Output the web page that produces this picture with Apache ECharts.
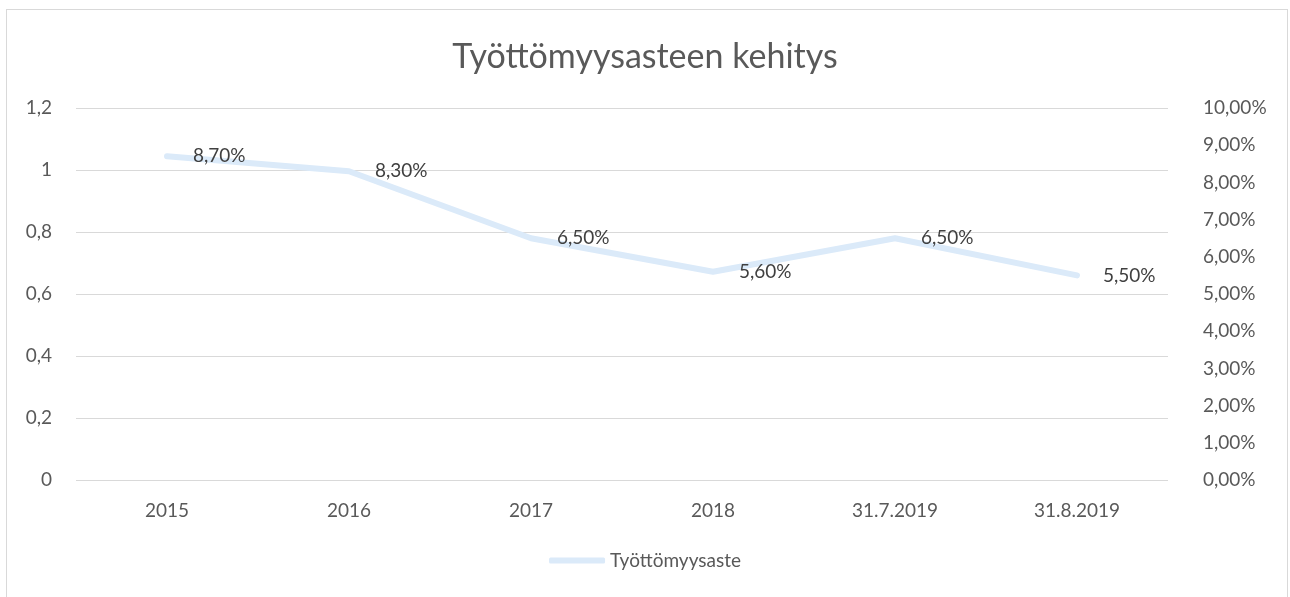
<!DOCTYPE html>
<html>
<head>
<meta charset="utf-8">
<script src="https://cdn.jsdelivr.net/npm/echarts@6/dist/echarts.min.js"></script>
<style>
  html, body { margin: 0; padding: 0; background: #fff; }
  .frame {
    position: absolute; left: 6px; top: 9px; width: 1282px; height: 600px;
    border: 1px solid #d9d9d9; box-sizing: border-box;
  }
  #chart { position: absolute; left: 0; top: 0; width: 1290px; height: 597px; }
</style>
</head>
<body>
<div class="frame"></div>
<div id="chart"></div>
<script>
const categories = ['2015', '2016', '2017', '2018', '31.7.2019', '31.8.2019']
const rates = [0.087, 0.083, 0.065, 0.056, 0.065, 0.055]
const seriesName = 'Työttömyysaste'

const labelColor = '#595959'
const lineColor = '#dbeaf9'
const fontFamily = 'Lato, "Liberation Sans", sans-serif'

const fmtComma = (v) => String(Math.round(v * 10) / 10).replace('.', ',')
const fmtPct = (v) => (v * 100).toFixed(2).replace('.', ',') + '%'

const chart = echarts.init(document.getElementById('chart'))
chart.setOption({
  animation: false,
  textStyle: { fontFamily: fontFamily },
  title: {
    text: 'Työttömyysasteen kehitys',
    left: 'center',
    top: 35,
    textStyle: { color: labelColor, fontSize: 34, fontWeight: 'normal', fontFamily: fontFamily }
  },
  grid: { left: 76, right: 122, top: 108, bottom: 117 },
  legend: {
    bottom: 22,
    left: 'center',
    itemWidth: 56,
    itemHeight: 6,
    itemGap: 4,
    textStyle: { color: labelColor, fontSize: 19, fontFamily: fontFamily },
    data: [{ name: seriesName, icon: 'roundRect', itemStyle: { color: lineColor } }]
  },
  xAxis: {
    type: 'category',
    data: categories,
    axisLine: { show: false },
    axisTick: { show: false },
    axisLabel: { color: labelColor, fontSize: 19, margin: 21 }
  },
  yAxis: [
    {
      type: 'value',
      min: 0,
      max: 1.2,
      interval: 0.2,
      axisLine: { show: false },
      axisTick: { show: false },
      splitLine: { lineStyle: { color: '#d9d9d9', width: 1 } },
      axisLabel: { color: labelColor, fontSize: 19, margin: 24, formatter: fmtComma }
    },
    {
      type: 'value',
      min: 0,
      max: 0.1,
      interval: 0.01,
      position: 'right',
      axisLine: { show: false },
      axisTick: { show: false },
      splitLine: { show: false },
      axisLabel: { color: labelColor, fontSize: 19, margin: 35, formatter: fmtPct }
    }
  ],
  series: [
    {
      name: seriesName,
      type: 'line',
      yAxisIndex: 1,
      data: rates,
      symbol: 'circle',
      symbolSize: 2,
      showSymbol: true,
      lineStyle: { color: lineColor, width: 6, cap: 'round' },
      itemStyle: { color: lineColor },
      label: {
        show: true,
        position: 'right',
        distance: 25,
        color: '#404040',
        fontSize: 19,
        formatter: (p) => fmtPct(p.value)
      }
    }
  ]
})
</script>
</body>
</html>
